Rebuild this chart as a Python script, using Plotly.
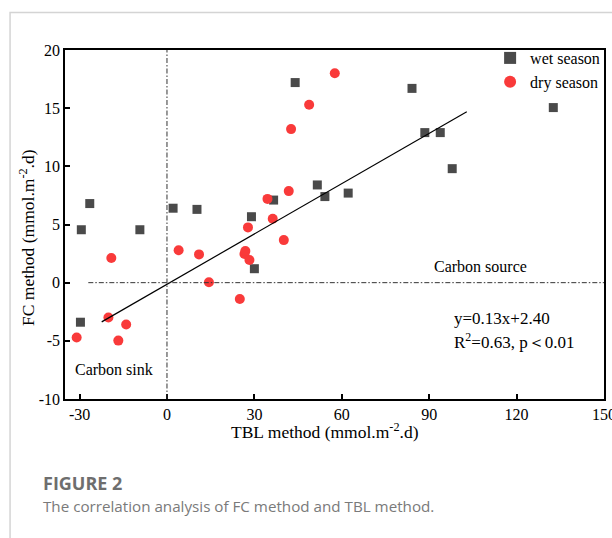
import plotly.graph_objects as go

# ---- data ----
wet_x = [-29.7, -29.4, -26.5, -9.3, 2.1, 10.3, 29.0, 30.0, 36.6, 44.0, 51.6, 54.2, 62.2, 84.1, 88.5, 93.8, 97.9, 132.6]
wet_y = [-3.4, 4.55, 6.8, 4.55, 6.4, 6.3, 5.67, 1.2, 7.1, 17.2, 8.4, 7.4, 7.7, 16.7, 12.9, 12.9, 9.8, 15.05]

dry_x = [-31.0, -20.1, -19.1, -16.7, -14.0, 4.0, 11.0, 14.4, 25.0, 26.6, 26.9, 27.8, 28.3, 34.5, 36.3, 40.1, 41.8, 42.6, 48.8, 57.6]
dry_y = [-4.72, -3.0, 2.12, -4.98, -3.6, 2.78, 2.43, 0.03, -1.4, 2.46, 2.72, 4.75, 1.95, 7.2, 5.5, 3.66, 7.87, 13.2, 15.3, 18.0]

fit_x = [-22.4, 102.9]
fit_y = [-3.37, 14.7]

x_ticks = [-30, 0, 30, 60, 90, 120, 150]
y_ticks = [-10, -5, 0, 5, 10, 15, 20]
x_range = [-35, 150]
y_range = [-10, 20]

# ---- layout geometry ----
W, H = 612, 538
ML, MR, MT, MB = 64.5, 8, 49.5, 139.3
PW, PH = W - ML - MR, H - MT - MB


def px(x):
    return (x - ML) / PW


def py(y):
    return 1 - (y - MT) / PH


SERIF = "'Liberation Serif', 'Times New Roman', serif"
SANS = "'Open Sans', 'Noto Sans', sans-serif"

fig = go.Figure()

fig.add_trace(go.Scatter(
    x=wet_x, y=wet_y, mode="markers", name="wet season",
    marker=dict(symbol="square", size=9, color="#4a4a4a", line=dict(width=0)),
))
fig.add_trace(go.Scatter(
    x=dry_x, y=dry_y, mode="markers", name="dry season",
    marker=dict(symbol="circle", size=10, color="#f93a3a", line=dict(width=0)),
))
fig.add_trace(go.Scatter(
    x=fit_x, y=fit_y, mode="lines", showlegend=False,
    line=dict(color="black", width=1.2),
))

# reference lines
DASH = "5px,2px,1.5px,2px"
fig.add_shape(type="line", xref="x", yref="y", x0=0, x1=0, y0=y_range[0], y1=y_range[1],
              line=dict(color="#333333", width=1, dash=DASH))
fig.add_shape(type="line", xref="x", yref="y", x0=-27, x1=x_range[1], y0=0, y1=0,
              line=dict(color="#333333", width=1, dash=DASH))

# outer light frame
fig.add_shape(type="rect", xref="paper", yref="paper", x0=px(9.5), x1=px(640), y0=py(600), y1=py(12),
              line=dict(color="#d4d4d4", width=1.5), layer="below")


def note(xp, yp, text, size, family=SERIF, color="black", anchor="left", angle=0):
    fig.add_annotation(x=px(xp), y=py(yp), xref="paper", yref="paper", text=text,
                       xanchor=anchor, yanchor="middle", showarrow=False, textangle=angle,
                       font=dict(family=family, size=size, color=color))


# axis titles
note(325, 431, "TBL method (mmol.m<sup>-2</sup>.d)", 17.5, anchor="center")
note(26.5, 237.5, "FC method (mmol.m<sup>-2</sup>.d)", 17.5, anchor="center", angle=-90)

# text annotations
note(480, 265.7, "Carbon source", 16, anchor="center")
note(452, 318, "y=0.13x+2.40", 17)
note(452, 341, "R<sup>2</sup>=0.63, p＜0.01", 17)
note(73, 369.5, "Carbon sink", 16)

# caption
note(40, 483, "<b>FIGURE 2</b>", 18, family=SANS, color="#6e6e6e")
note(40, 506, "The correlation analysis of FC method and TBL method.", 15.2, family=SANS, color="#7a7a7a")

axis_common = dict(
    showgrid=False, zeroline=False, showline=True, mirror=True,
    linecolor="black", linewidth=1.5,
    ticks="inside", ticklen=5, tickwidth=1.5, tickcolor="black",
    tickfont=dict(family=SERIF, size=16, color="black"),
    ticklabeloverflow="allow",
)

fig.update_layout(
    width=W, height=H,
    font=dict(family=SERIF, color="black"),
    margin=dict(l=ML, r=MR, t=MT, b=MB, autoexpand=False),
    paper_bgcolor="white", plot_bgcolor="white",
    showlegend=True,
    legend=dict(x=px(490), y=py(40.5), xanchor="left", yanchor="top",
                bgcolor="rgba(0,0,0,0)", font=dict(family=SERIF, size=16, color="black"),
                itemsizing="constant", tracegroupgap=0),
    xaxis=dict(range=x_range, tickvals=x_ticks, ticktext=[str(v) for v in x_ticks], **axis_common),
    yaxis=dict(range=y_range, tickvals=y_ticks, ticktext=[str(v) for v in y_ticks], **axis_common),
)

fig.write_html("out.html")
